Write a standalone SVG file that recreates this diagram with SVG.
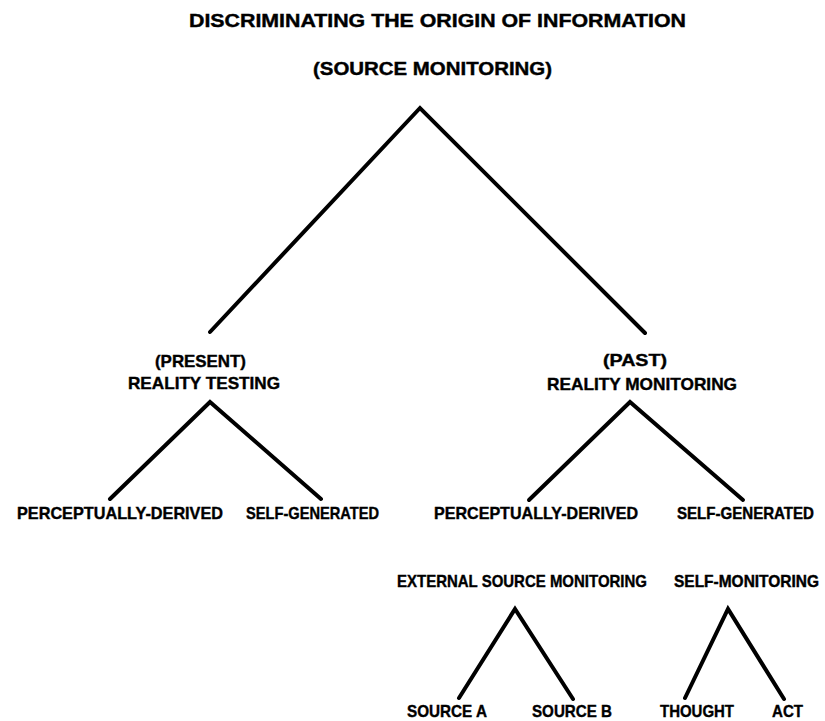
<svg xmlns="http://www.w3.org/2000/svg" width="825" height="721" viewBox="0 0 825 721">
<style>
text{font-family:"Liberation Sans",Arial,Helvetica,sans-serif;font-weight:bold;fill:#000;stroke:#000;stroke-width:0.4;font-size:17px}
.t{font-size:18px}
.n{font-size:15px}
.edge{fill:none;stroke:#000;stroke-width:4;stroke-linecap:round;stroke-linejoin:miter}
</style>
<rect width="825" height="721" fill="#fff"/>
<g id="connectors">
<path class="edge" d="M210,332 L420,108 L645,333"/>
<path class="edge" d="M110,499 L210,402 L321,499"/>
<path class="edge" d="M529,500 L630,402 L743,500"/>
<path class="edge" d="M459,698 L515,609 L573,699"/>
<path class="edge" d="M685,698 L728,609 L784,699"/>
</g>
<g id="root">
<text class="t" x="189" y="27" textLength="497" lengthAdjust="spacingAndGlyphs">DISCRIMINATING THE ORIGIN OF INFORMATION</text>
<text class="t" x="313" y="75" textLength="239" lengthAdjust="spacingAndGlyphs">(SOURCE MONITORING)</text>
</g>
<g id="reality-testing">
<text x="155" y="367" textLength="91" lengthAdjust="spacingAndGlyphs">(PRESENT)</text>
<text x="128" y="389" textLength="152" lengthAdjust="spacingAndGlyphs">REALITY TESTING</text>
</g>
<g id="reality-monitoring">
<text x="603" y="366" textLength="64" lengthAdjust="spacingAndGlyphs">(PAST)</text>
<text x="547" y="390" textLength="190" lengthAdjust="spacingAndGlyphs">REALITY MONITORING</text>
</g>
<g id="rt-perceptual">
<text x="17" y="519" textLength="206" lengthAdjust="spacingAndGlyphs">PERCEPTUALLY-DERIVED</text>
</g>
<g id="rt-self">
<text x="246" y="519" textLength="133" lengthAdjust="spacingAndGlyphs">SELF-GENERATED</text>
</g>
<g id="rm-perceptual">
<text x="434" y="519" textLength="204" lengthAdjust="spacingAndGlyphs">PERCEPTUALLY-DERIVED</text>
</g>
<g id="rm-self">
<text class="n" transform="translate(677,519) scale(1,1.13)" x="0" y="0" textLength="137" lengthAdjust="spacingAndGlyphs">SELF-GENERATED</text>
</g>
<g id="external-source-monitoring">
<text x="397" y="587" textLength="250" lengthAdjust="spacingAndGlyphs">EXTERNAL SOURCE MONITORING</text>
</g>
<g id="self-monitoring">
<text class="n" transform="translate(674,587) scale(1,1.13)" x="0" y="0" textLength="145" lengthAdjust="spacingAndGlyphs">SELF-MONITORING</text>
</g>
<g id="source-a">
<text x="407" y="717" textLength="80" lengthAdjust="spacingAndGlyphs">SOURCE A</text>
</g>
<g id="source-b">
<text x="532" y="717" textLength="80" lengthAdjust="spacingAndGlyphs">SOURCE B</text>
</g>
<g id="thought">
<text x="660" y="717" textLength="74" lengthAdjust="spacingAndGlyphs">THOUGHT</text>
</g>
<g id="act">
<text x="772" y="717" textLength="31" lengthAdjust="spacingAndGlyphs">ACT</text>
</g>
</svg>
